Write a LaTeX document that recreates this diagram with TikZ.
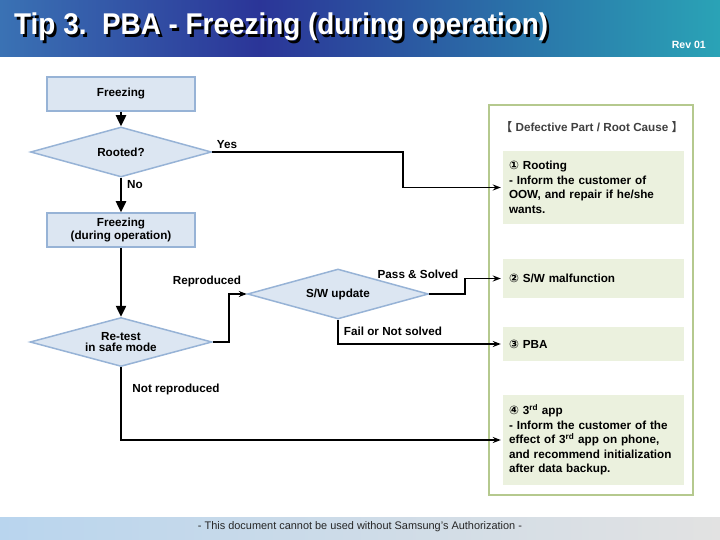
\documentclass[tikz,border=0pt]{standalone}
\usepackage{fontspec}
\usepackage{graphicx}
\setmainfont{Liberation Sans}
\newfontfamily\sym{DejaVu Sans}
\newfontfamily\cjk{Noto Sans CJK SC}
\usetikzlibrary{shapes.geometric,arrows.meta}
\definecolor{boxfill}{HTML}{DCE6F2}
\definecolor{boxline}{HTML}{97B3D6}
\definecolor{causefill}{HTML}{EBF1DE}
\definecolor{panelline}{HTML}{B5C98E}
\definecolor{hdrA}{HTML}{3A72B4}
\definecolor{hdrB}{HTML}{2B3598}
\definecolor{hdrC}{HTML}{2AA3B6}
\definecolor{ftrA}{HTML}{B9D5EE}
\definecolor{ftrB}{HTML}{E2E2E2}
\definecolor{titlegrey}{HTML}{404040}
\pgfdeclarehorizontalshading{hdr}{100bp}{color(0bp)=(hdrA); color(25bp)=(hdrA); color(43bp)=(hdrB); color(75bp)=(hdrC); color(100bp)=(hdrC)}
\pgfdeclarehorizontalshading{ftr}{100bp}{color(0bp)=(ftrA); color(25bp)=(ftrA); color(75bp)=(ftrB); color(100bp)=(ftrB)}
\begin{document}
\begin{tikzpicture}[x=1pt,y=-1pt,
  txt/.style={font=\bfseries\fontsize{11.7}{13}\selectfont},
  proc/.style={txt, draw=boxline, fill=boxfill, line width=1.5pt, minimum width=148pt, minimum height=34pt, align=center, inner sep=0pt},
  dec/.style={txt, diamond, aspect=3.7, draw=boxline, fill=boxfill, line width=1.5pt, inner sep=0pt, align=center},
  cause/.style={font=\bfseries\fontsize{11.7}{14.5}\selectfont, fill=causefill, text width=169pt, inner xsep=6pt, inner ysep=0pt, align=left},
  mainflow/.style={line width=2.4pt, -{Triangle[width=10pt,length=11pt]}},
  thinflow/.style={line width=1.4pt, -{Stealth[width=6pt,length=8pt]}},
  lbl/.style={txt}
]
\useasboundingbox (0,0) rectangle (720,540);
% header
\shade[shading=hdr] (0,0) rectangle (720,57);
\node[anchor=base west, text=black, font=\bfseries\fontsize{30}{32}\selectfont, inner sep=0pt] (titleshadow) at (16.5,37.5) {\resizebox{534pt}{\height}{Tip 3.\ \ PBA - Freezing (during operation)}};
\node[anchor=base west, text=white, font=\bfseries\fontsize{30}{32}\selectfont, inner sep=0pt] (title) at (14,35) {\resizebox{534pt}{\height}{Tip 3.\ \ PBA - Freezing (during operation)}};
\node[anchor=base east, text=white, font=\fontsize{10.5}{12}\selectfont, inner sep=0pt] (rev) at (706,49) {\resizebox{34pt}{\height}{\bfseries Rev 01}};
% footer
\shade[shading=ftr] (0,517) rectangle (720,540);
\node[anchor=base, font=\fontsize{11}{12}\selectfont, text=black!85, inner sep=0pt] (foot) at (360,529) {\resizebox{324pt}{\height}{- This document cannot be used without Samsung's Authorization -}};

% flow nodes
\node[proc] (freeze) at (121,94) {Freezing};
\node[dec, minimum width=181pt, minimum height=50pt] (rooted) at (121,152) {Rooted?};
\node[proc] (freeze2) at (121,230) {Freezing\\(during operation)};
\node[dec, minimum width=182pt, minimum height=49pt, font=\bfseries\fontsize{11.7}{11.5}\selectfont] (retest) at (121,342) {Re-test\\in safe mode};
\node[dec, minimum width=181pt, minimum height=50pt] (sw) at (338,294) {S/W update};

% panel
\draw[panelline, line width=1.8pt] (489,105) rectangle (693,495);
\node[font=\bfseries\fontsize{11.7}{13}\selectfont, text=titlegrey] (ptitle) at (592,127) {{\cjk 【}\ Defective Part / Root Cause\ {\cjk 】}};
\node[cause, minimum height=73pt] (c1) at (593.5,187.5) {{\sym ①} Rooting\\- Inform the customer of\\OOW, and repair if he/she\\wants.};
\node[cause, minimum height=39pt] (c2) at (593.5,278.5) {{\sym ②} S/W malfunction};
\node[cause, minimum height=34pt] (c3) at (593.5,344) {{\sym ③} PBA};
\node[cause, minimum height=90pt] (c4) at (593.5,440) {{\sym ④} 3\textsuperscript{rd} app\\- Inform the customer of the\\effect of 3\textsuperscript{rd} app on phone,\\and recommend initialization\\after data backup.};

% connectors
\draw[mainflow] (freeze.south) -- (rooted.north);
\draw[mainflow] (rooted.south) -- (freeze2.north);
\draw[mainflow] (freeze2.south) -- (retest.north);
\coordinate (yk) at (403,152);
\draw[thinflow, shorten >=2pt] (rooted.east) -- (yk) |- (c1.west);
\coordinate (rk) at (229,342);
\draw[thinflow] (retest.east) -- (rk) |- (sw.west);
\coordinate (pk) at (465,294);
\draw[thinflow, shorten >=2pt] (sw.east) -- (pk) |- (c2.west);
\draw[thinflow, shorten >=2pt] (sw.south) |- (c3.west);
\draw[thinflow, shorten >=2pt] (retest.south) |- (c4.west);

% labels
\node[lbl] (lyes) at (227,145) {Yes};
\node[lbl] (lno) at (135,185) {No};
\node[lbl] (lrep) at (207,281) {Reproduced};
\node[lbl] (lpass) at (418,274) {Pass \& Solved};
\node[lbl] (lfail) at (393,331) {Fail or Not solved};
\node[lbl] (lnot) at (176,389) {Not reproduced};
\end{tikzpicture}
\end{document}
